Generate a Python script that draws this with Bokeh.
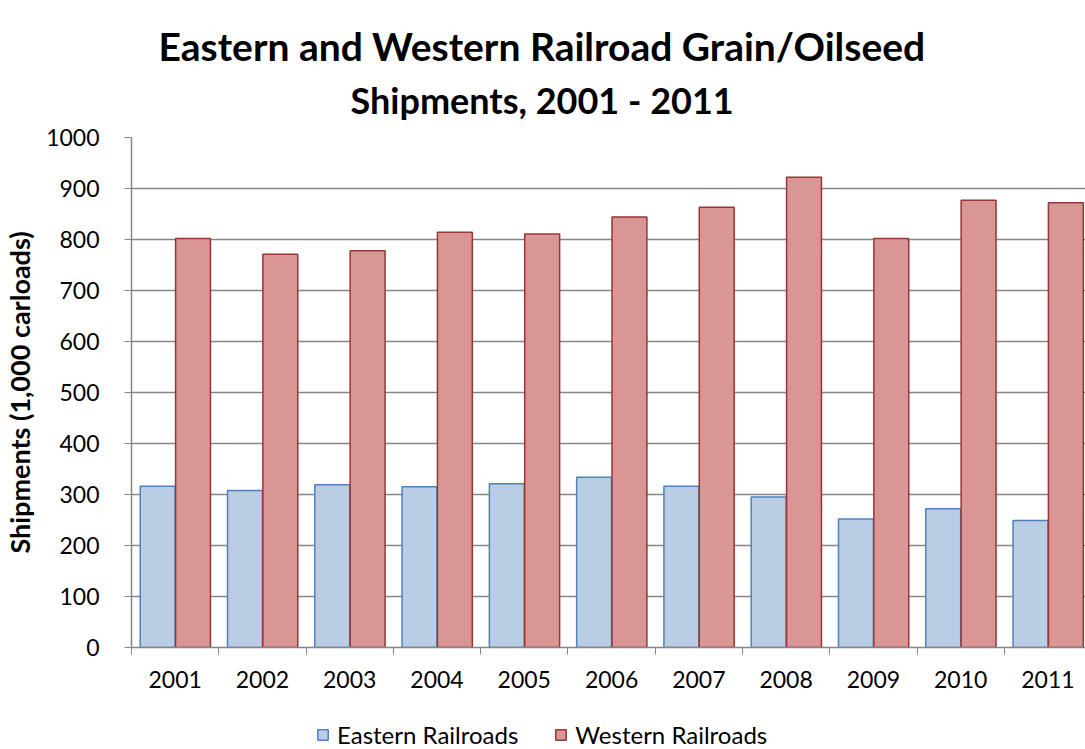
from bokeh.plotting import figure
from bokeh.layouts import column
from bokeh.models import ColumnDataSource, FixedTicker, Range1d, Title, Legend, LegendItem
from bokeh.embed import file_html
from bokeh.resources import INLINE

years = ["2001", "2002", "2003", "2004", "2005", "2006", "2007", "2008", "2009", "2010", "2011"]
eastern = [316, 308, 319, 315, 321, 334, 316, 295, 252, 272, 249]
western = [802, 771, 778, 814, 811, 844, 863, 922, 802, 877, 872]
y_ticks = [0, 100, 200, 300, 400, 500, 600, 700, 800, 900, 1000]
series_names = ["Eastern Railroads", "Western Railroads"]

FONT = "Lato"
GRAY = "#868686"
FILLS = ["#B9CDE5", "#D99694"]
LINES = ["#4F81BD", "#953735"]

idx = list(range(len(years)))
src = ColumnDataSource(dict(
    year=years,
    xe=[i + 0.3 for i in idx],
    xw=[i + 0.705 for i in idx],
    east=eastern,
    west=western,
))

p = figure(width=1085, height=718, output_backend="svg", toolbar_location=None,
           x_range=Range1d(0, 10.93), y_range=Range1d(0, 1000),
           min_border_left=123, min_border_right=0, min_border_top=137, min_border_bottom=71)
p.outline_line_color = None

p.vbar(x="xe", top="east", width=0.4, source=src,
       fill_color=FILLS[0], line_color=LINES[0], line_width=1.5)
p.vbar(x="xw", top="west", width=0.4, source=src,
       fill_color=FILLS[1], line_color=LINES[1], line_width=1.5)

# titles (two lines)
t2 = Title(text="Shipments, 2001 - 2011", align="left", offset=219,
           text_font=FONT, text_font_size="36px", text_font_style="bold", text_color="black",
           standoff=31)
t1 = Title(text="Eastern and Western Railroad Grain/Oilseed", align="left", offset=27,
           text_font=FONT, text_font_size="39px", text_font_style="bold", text_color="black",
           standoff=-17)
p.add_layout(t2, "above")
p.add_layout(t1, "above")

# x axis
xa = p.xaxis[0]
xa.ticker = FixedTicker(ticks=[i + 0.5 for i in idx], minor_ticks=list(range(len(years) + 1)))
xa.major_label_overrides = {i + 0.5: y for i, y in zip(idx, years)}
xa.major_tick_line_color = None
xa.major_tick_in = 0
xa.major_tick_out = 7
xa.minor_tick_line_color = GRAY
xa.minor_tick_in = 0
xa.minor_tick_out = 7
xa.axis_line_color = GRAY
xa.axis_line_width = 1.5
xa.major_label_text_font = FONT
xa.major_label_text_font_size = "23px"
xa.major_label_text_color = "black"
xa.major_label_standoff = 16

# y axis
ya = p.yaxis[0]
ya.ticker = FixedTicker(ticks=y_ticks)
ya.axis_line_color = GRAY
ya.axis_line_width = 1.5
ya.major_tick_line_color = GRAY
ya.major_tick_in = 0
ya.major_tick_out = 7
ya.minor_tick_line_color = None
ya.major_label_text_font = FONT
ya.major_label_text_font_size = "23px"
ya.major_label_text_color = "black"
ya.major_label_standoff = 25
ya.axis_label = "Shipments (1,000 carloads)"
ya.axis_label_text_font = FONT
ya.axis_label_text_font_size = "27px"
ya.axis_label_text_font_style = "bold"
ya.axis_label_text_color = "black"
ya.axis_label_standoff = 7

p.xgrid.grid_line_color = None
p.ygrid.ticker = FixedTicker(ticks=y_ticks)
p.ygrid.grid_line_color = GRAY
p.ygrid.grid_line_width = 1.5

# legend strip below the chart (hidden copies of the series supply the legend swatches)
lg = figure(width=1085, height=31, output_backend="svg", toolbar_location=None,
            x_range=Range1d(0, 1), y_range=Range1d(0, 1),
            min_border_left=0, min_border_right=0, min_border_top=0, min_border_bottom=0)
lg.axis.visible = False
lg.grid.visible = False
lg.outline_line_color = None
items = []
for name, xcol, ycol, fc, lc in zip(series_names, ["xe", "xw"], ["east", "west"], FILLS, LINES):
    r = lg.vbar(x=xcol, top=ycol, width=0.4, source=src,
                fill_color=fc, line_color=lc, line_width=1.5, visible=False)
    items.append(LegendItem(label=name, renderers=[r]))
legend = Legend(items=items, orientation="horizontal", location=(185, 0),
                border_line_color=None, background_fill_color=None,
                inactive_fill_alpha=0,
                padding=0, margin=0, spacing=36,
                glyph_width=13, glyph_height=13, label_standoff=8,
                label_text_font=FONT, label_text_font_size="24px", label_text_color="black",
                label_height=20)
lg.add_layout(legend, "center")

layout = column(p, lg, spacing=0)
open("out.html", "w").write(file_html(layout, INLINE))
